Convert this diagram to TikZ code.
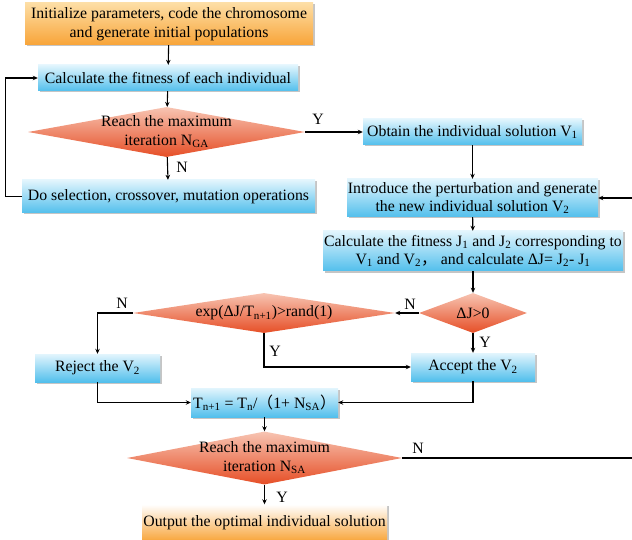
\documentclass[tikz,border=0pt]{standalone}
\usepackage{fontspec}
\setmainfont{Liberation Serif}
\newfontfamily\cjk{Noto Sans CJK SC}
\usetikzlibrary{shapes.geometric,arrows.meta,shadows}
\definecolor{bluetop}{RGB}{226,245,253}
\definecolor{bluebot}{RGB}{82,191,236}
\definecolor{orgtop}{RGB}{253,222,165}
\definecolor{orgbot}{RGB}{248,164,56}
\definecolor{redtop}{RGB}{247,196,178}
\definecolor{redbot}{RGB}{230,78,38}
\begin{document}
\begin{tikzpicture}[x=1pt, y=-1pt,
  every node/.style={font=\fontsize{15.8}{18.5}\selectfont},
  procbox/.style={rectangle, inner sep=0pt, align=center, top color=bluetop, bottom color=bluebot,
    drop shadow={shadow xshift=1.5pt, shadow yshift=-1.5pt, fill=black!45, opacity=0.5}},
  startbox/.style={procbox, top color=orgtop, bottom color=orgbot},
  decision/.style={diamond, inner sep=0pt, top color=redtop, bottom color=redbot},
  ln/.style={line width=1.1pt},
  arr/.style={ln, -{Stealth[length=5pt, width=4.5pt]}}]
  \useasboundingbox (0,0) rectangle (632,540);
  \coordinate (redge) at (634,0);
  % genetic algorithm part
  \node[startbox, minimum width=288, minimum height=42] (init) at (169,24)
    {Initialize parameters, code the chromosome\\and generate initial populations};
  \node[procbox, minimum width=260, minimum height=26] (fit) at (168,78)
    {Calculate the fitness of each individual};
  \node[decision, minimum width=277, minimum height=50] (ga) at (166.5,132) {};
  \node[align=center] (gatxt) at (ga) {Reach the maximum\\iteration N\textsubscript{GA}};
  \node[procbox, minimum width=293, minimum height=33] (sel) at (168.5,196.5)
    {Do selection, crossover, mutation operations};
  % simulated annealing part
  \node[procbox, minimum width=219, minimum height=26] (obt) at (472.5,132)
    {Obtain the individual solution V\textsubscript{1}};
  \node[procbox, minimum width=251, minimum height=38] (pert) at (472.5,198)
    {Introduce the perturbation and generate\\the new individual solution V\textsubscript{2}};
  \node[procbox, minimum width=300, minimum height=40] (calcj) at (473,251)
    {Calculate the fitness J\textsubscript{1} and J\textsubscript{2} corresponding to\\
     V\textsubscript{1} and V\textsubscript{2}{\cjk ，} and calculate ΔJ= J\textsubscript{2}- J\textsubscript{1}};
  \node[decision, minimum width=108, minimum height=40] (dj) at (473,313) {};
  \node (djtxt) at (dj) {ΔJ>0};
  \node[decision, minimum width=262, minimum height=40] (ex) at (264,313) {};
  \node (extxt) at (ex) {exp(ΔJ/T\textsubscript{n+1})>rand(1)};
  \node[procbox, minimum width=125, minimum height=28] (rej) at (97.5,368) {Reject the V\textsubscript{2}};
  \node[procbox, minimum width=124, minimum height=28] (acc) at (473,367) {Accept the V\textsubscript{2}};
  \node[procbox, minimum width=147, minimum height=29] (tn) at (264.5,402.5)
    {T\textsubscript{n+1} = T\textsubscript{n}/{\cjk （}1+ N\textsubscript{SA}{\cjk ）}};
  \node[decision, minimum width=275, minimum height=53] (sa) at (264.5,458) {};
  \node[align=center] (satxt) at (sa) {Reach the maximum\\iteration N\textsubscript{SA}};
  \node[startbox, top color=white, minimum width=245, minimum height=37] (out) at (264.5,523)
    {Output the optimal individual solution};
  % connectors
  \draw[arr] (init) -- (fit);
  \draw[arr] (fit) -- (ga);
  \draw[arr] (ga) -- (sel);
  \draw[arr] (sel.west) -- ++(-16,0) |- (fit.west);
  \draw[arr] (ga.east) -- (obt.west);
  \draw[arr] (obt) -- (pert);
  \draw[arr] (pert) -- (calcj);
  \draw[arr] (calcj) -- (dj);
  \draw[arr] (dj.west) -- (ex.east);
  \draw[arr] (dj) -- (acc);
  \draw[arr] (ex.west) -| (rej.north);
  \draw[arr] (ex.south) |- (acc.west);
  \draw[arr] (rej.south) |- (tn.west);
  \draw[arr] (acc.south) |- (tn.east);
  \draw[arr] (tn) -- (sa);
  \draw[arr] (sa) -- (out);
  \draw[arr] (sa.east) -- (sa.east -| redge) |- (pert.east);
  % branch labels
  \node (yga) at (318,119) {Y};
  \node (nga) at (182,167) {N};
  \node (ndj) at (410,304) {N};
  \node (ydj) at (485,342) {Y};
  \node (nex) at (122,303) {N};
  \node (yex) at (275,351) {Y};
  \node (nsa) at (418,448) {N};
  \node (ysa) at (282,497) {Y};
\end{tikzpicture}
\end{document}
